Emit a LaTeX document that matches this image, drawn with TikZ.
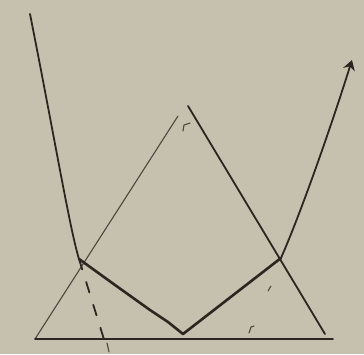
\documentclass[tikz,border=0pt]{standalone}
\usetikzlibrary{arrows.meta}
\definecolor{paper}{HTML}{C6C1AE}
\definecolor{pencil}{HTML}{2B2620}

\begin{document}
\begin{tikzpicture}[x=1pt, y=-1pt, line cap=round, line join=round,
  thin line/.style={draw=pencil!85, line width=1.1pt},
  ink/.style={draw=pencil, line width=2.6pt},
  mid/.style={draw=pencil, line width=1.8pt},
  arr/.style={-{Stealth[length=10pt, width=12pt]}}]
\fill[paper] (0,0) rectangle (364,354);
\useasboundingbox (0,0) rectangle (364,354);
% triangle
\coordinate (bl) at (35,339);
\coordinate (br) at (333,339);
\coordinate (tl) at (178,116);
\coordinate (tr) at (188,106);
\coordinate (rb) at (325,334);
\draw[thin line] (bl) -- (tl);
\draw[mid] (tr) -- (rb);
\draw[mid] (bl) -- (br);
% small ticks
\draw[thin line] (183,131) -- (184,125) -- (190,123);
\draw[thin line] (107,343) -- (109,352);
\draw[thin line] (249,333) -- (251,327) -- (254,326);
\draw[thin line] (268,291) -- (271,286);
% curve
\coordinate (p) at (79,259);
\coordinate (v) at (183,334);
\coordinate (q) at (281,258);
\coordinate (tip) at (352,60);
\draw[mid] (30,14) .. controls (55,140) and (70,230) .. (p);
\draw[ink] (p) -- (115,285) -- (150,310) -- (168,322) -- (v) -- (q);
\draw[mid, arr] (q) .. controls (300,215) and (330,130) .. (tip);
% dashed
\draw[mid, dash pattern=on 11pt off 13pt] (p) -- (107,349);
\end{tikzpicture}
\end{document}
